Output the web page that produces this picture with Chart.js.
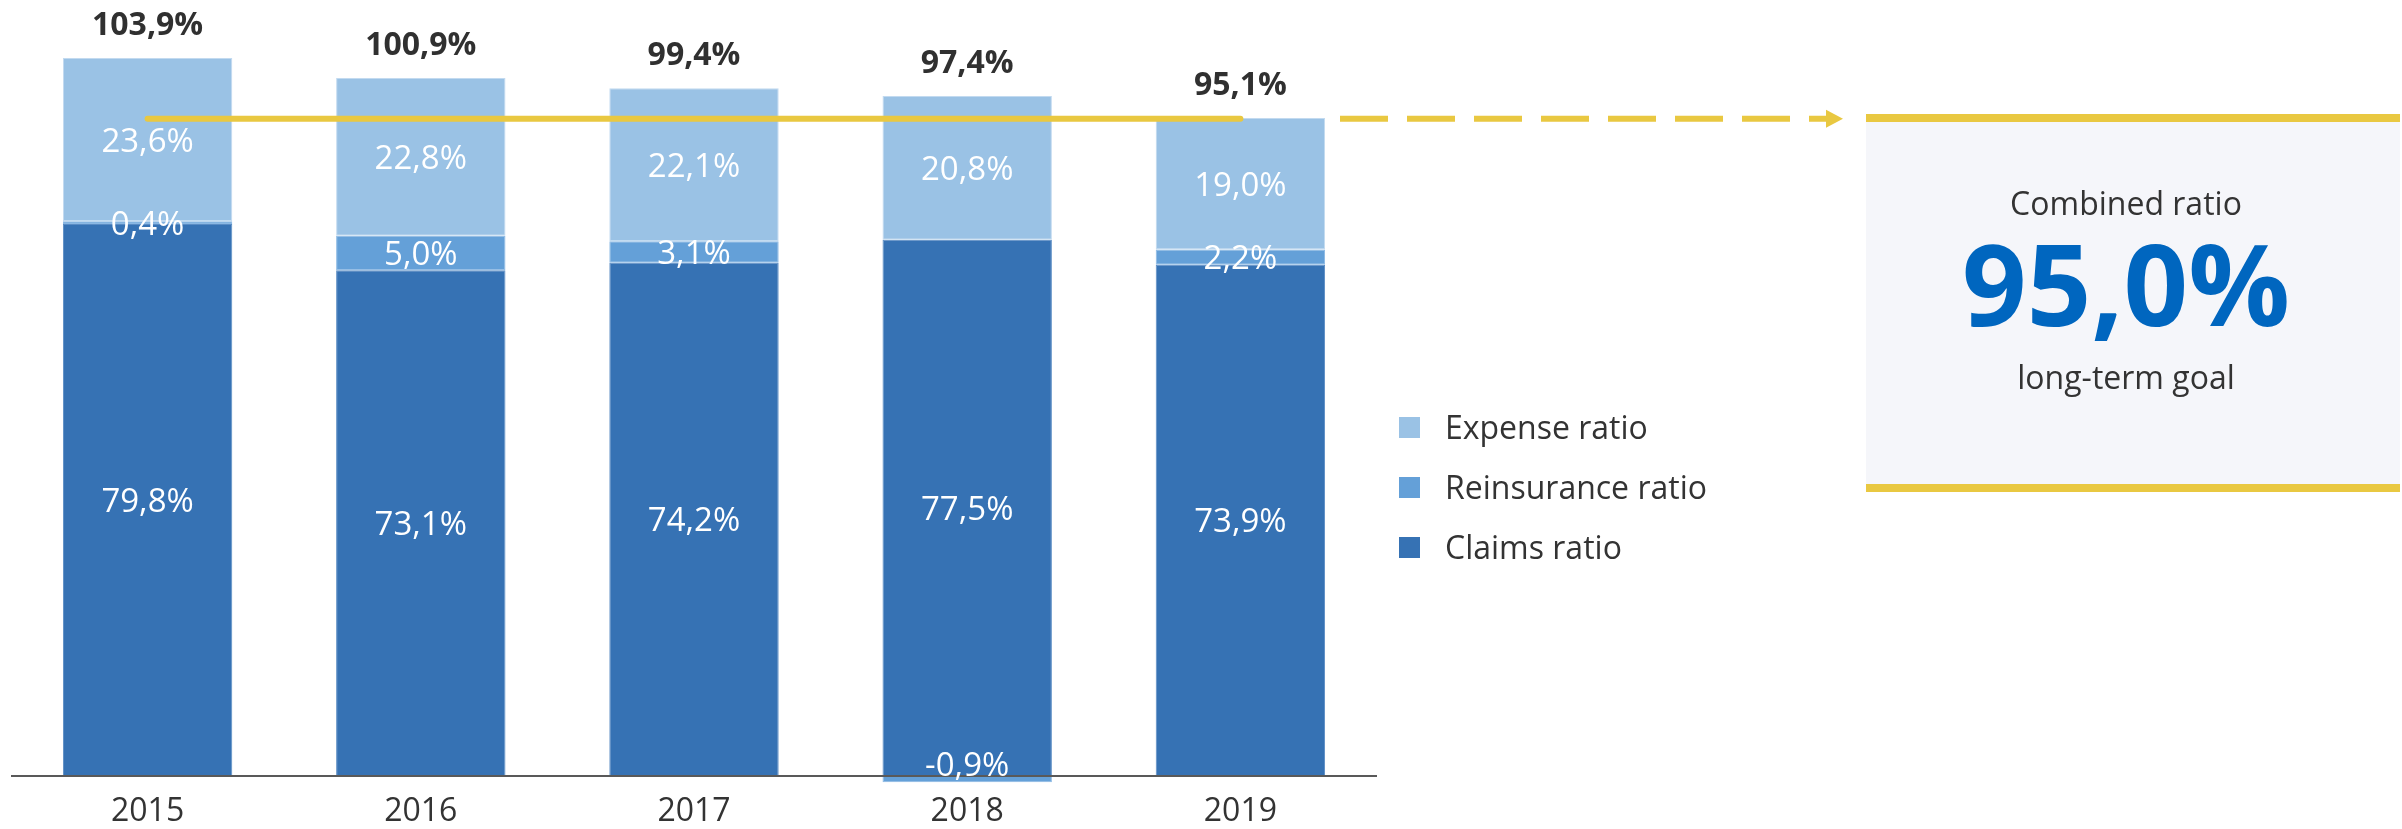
<!DOCTYPE html>
<html>
<head>
<meta charset="utf-8">
<script src="https://cdn.jsdelivr.net/npm/chart.js@4.4.1/dist/chart.umd.min.js"></script>
<style>
  html, body { margin: 0; padding: 0; background: #ffffff; }
  #wrap { position: relative; width: 2402px; height: 829px; }
</style>
</head>
<body>
<div id="wrap"><canvas id="chart" width="2402" height="829"></canvas></div>
<script>
// data
const years = ["2015", "2016", "2017", "2018", "2019"];
const claimsRatio = [79.8, 73.1, 74.2, 77.5, 73.9];
const reinsuranceRatio = [0.4, 5.0, 3.1, -0.9, 2.2];
const expenseRatio = [23.6, 22.8, 22.1, 20.8, 19.0];
const combinedRatio = [103.9, 100.9, 99.4, 97.4, 95.1];
const goalLine = [95.0, 95.0, 95.0, 95.0, 95.0];
const goalValue = 95.0;
const goalTitle = "Combined ratio";
const goalCaption = "long-term goal";
const legendItems = ["Expense ratio", "Reinsurance ratio", "Claims ratio"];

const COLORS = {
  expense: "#9ac2e5",
  reinsurance: "#64a0d8",
  claims: "#3672b4",
  yellow: "#e9c841",
  text: "#333333",
  boxBg: "#f5f6fa",
  goalBlue: "#0066bf",
};
const FONT = "'Open Sans', 'Noto Sans', sans-serif";

const fmt = (v) => v.toFixed(1).replace(".", ",") + "%";

// draws text on an alphabetic baseline
function drawText(ctx, text, x, y, font, align) {
  ctx.font = font;
  ctx.textAlign = align || "center";
  ctx.textBaseline = "alphabetic";
  ctx.fillText(text, x, y);
}

const labelsPlugin = {
  id: "labels",
  afterDatasetsDraw(chart) {
    const ctx = chart.ctx;
    const yScale = chart.scales.y;
    const zeroY = yScale.getPixelForValue(0);
    const area = chart.chartArea;
    ctx.save();

    // zero axis line
    ctx.strokeStyle = "#595959";
    ctx.lineWidth = 2;
    ctx.beginPath();
    ctx.moveTo(area.left, zeroY);
    ctx.lineTo(area.right, zeroY);
    ctx.stroke();

    // segment labels
    ctx.fillStyle = "#ffffff";
    [0, 1, 2].forEach((di) => {
      const meta = chart.getDatasetMeta(di);
      const values = chart.data.datasets[di].data;
      meta.data.forEach((bar, i) => {
        let base = (bar.y + bar.base) / 2 + 12;
        if (values[i] < 0) base = zeroY;
        drawText(ctx, fmt(values[i]), bar.x, base, "33px " + FONT);
      });
    });

    // totals above each bar
    ctx.fillStyle = "#303030";
    chart.getDatasetMeta(2).data.forEach((bar, i) => {
      drawText(ctx, fmt(combinedRatio[i]), bar.x, bar.y - 23, "bold 32px " + FONT);
    });
    ctx.restore();
  },
};

const sidePlugin = {
  id: "side",
  afterDraw(chart) {
    const ctx = chart.ctx;
    const gy = chart.scales.y.getPixelForValue(goalValue);
    ctx.save();

    // dashed arrow towards the goal box
    ctx.strokeStyle = COLORS.yellow;
    ctx.fillStyle = COLORS.yellow;
    ctx.lineWidth = 6;
    ctx.setLineDash([48, 19]);
    ctx.beginPath();
    ctx.moveTo(1340, gy);
    ctx.lineTo(1828, gy);
    ctx.stroke();
    ctx.setLineDash([]);
    ctx.beginPath();
    ctx.moveTo(1826, gy - 9);
    ctx.lineTo(1843, gy);
    ctx.lineTo(1826, gy + 9);
    ctx.closePath();
    ctx.fill();

    // goal box
    const bx = 1866, bw = 534, top = 114, bottom = 492;
    ctx.fillStyle = COLORS.boxBg;
    ctx.fillRect(bx, top, bw, bottom - top);
    ctx.fillStyle = COLORS.yellow;
    ctx.fillRect(bx, top, bw, 8);
    ctx.fillRect(bx, bottom - 8, bw, 8);

    const cx = 2126;
    ctx.fillStyle = COLORS.text;
    drawText(ctx, goalTitle, cx, 215, "32px " + FONT);
    drawText(ctx, goalCaption, cx, 389, "32px " + FONT);
    ctx.fillStyle = COLORS.goalBlue;
    drawText(ctx, fmt(goalValue), cx, 326, "bold 113px " + FONT);

    // legend
    const swatches = [COLORS.expense, COLORS.reinsurance, COLORS.claims];
    legendItems.forEach((label, i) => {
      const y = 427 + i * 60;
      ctx.fillStyle = swatches[i];
      ctx.fillRect(1399, y - 10, 21, 21);
      ctx.fillStyle = COLORS.text;
      drawText(ctx, label, 1445, y + 12, "32px " + FONT, "left");
    });
    ctx.restore();
  },
};

const barCommon = {
  type: "bar",
  stack: "ratios",
  order: 1,
  barPercentage: 0.62,
  categoryPercentage: 1.0,
  borderWidth: 1,
  borderSkipped: false,
};

new Chart(document.getElementById("chart"), {
  data: {
    labels: years,
    datasets: [
      { ...barCommon, label: "Claims ratio", data: claimsRatio, backgroundColor: COLORS.claims, borderColor: "#5a8cc4" },
      { ...barCommon, label: "Reinsurance ratio", data: reinsuranceRatio, backgroundColor: COLORS.reinsurance, borderColor: "#8ab8e4" },
      { ...barCommon, label: "Expense ratio", data: expenseRatio, backgroundColor: COLORS.expense, borderColor: "#c2daf0" },
      {
        type: "line",
        label: "Goal",
        stack: "goal",
        order: 0,
        data: goalLine,
        borderColor: COLORS.yellow,
        borderWidth: 6,
        borderCapStyle: "round",
        pointRadius: 0,
        fill: false,
      },
    ],
  },
  options: {
    responsive: false,
    animation: false,
    devicePixelRatio: 1,
    layout: { padding: { left: 11, right: 1025, top: 15, bottom: 0 } },
    plugins: { legend: { display: false }, tooltip: { enabled: false } },
    scales: {
      x: {
        stacked: true,
        grid: { display: false, drawTicks: false },
        border: { display: false },
        ticks: { color: COLORS.text, font: { family: FONT, size: 32, lineHeight: 1.0 }, padding: 1 },
      },
      y: {
        stacked: true,
        display: false,
        min: -2.75,
        max: 110,
      },
    },
  },
  plugins: [labelsPlugin, sidePlugin],
});
</script>
</body>
</html>
